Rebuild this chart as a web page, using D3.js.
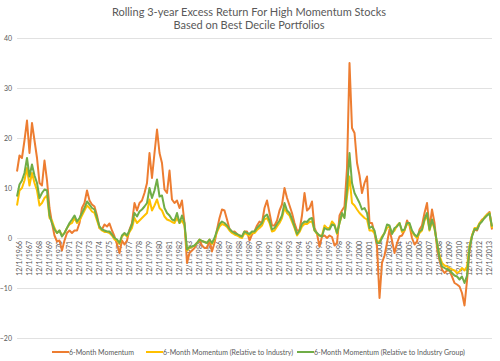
<!DOCTYPE html>
<html>
<head>
<meta charset="utf-8">
<script src="https://cdn.jsdelivr.net/npm/d3@7"></script>
<style>
  body { margin: 0; background: #fff; }
  svg { font-family: Lato, "Open Sans", sans-serif; }
</style>
</head>
<body>
<svg id="chart" width="500" height="361"></svg>
<script>
// quarterly readings, first point Sep 1966, last Mar 2014
const startDate = new Date(1966, 8, 1);

const momentum = [
  13.3, 16.5, 16, 19.5, 23.5, 17, 23, 19.5, 16, 11, 10.5, 15.5, 11.5, 6, 3, 0.5, -0.7, -0.5, -2.5, -0.5,
  1, 1.5, 1, 1.5, 1.5, 3, 6, 7, 9.5, 7.5, 6.7, 6.3, 4.5, 2, 1.7, 2.7, 2.3, 2.9, 1.5, 0.3,
  -1.3, -3, -0.5, -1.3, -0.5, 1.7, 3, 7, 5.5, 7, 7.5, 9, 11, 17, 12, 17, 21.7, 17, 15, 9.7,
  9, 13.5, 7.7, 7, 7.5, 6, 7.5, 3, -5, -3, -2.5, -2, -1, -0.5, -1.5, -2, -2, -0.5,
  -2.7, -1, 1.7, 4, 5.7, 5.5, 3.7, 1.8, 1.2, 1.3, 0.8, 0.5, 0.3, 1.3, 1.3, -0.5, 0.7, 1.3, 2.5, 3.3,
  3, 6, 7.5, 5, 2.5, 2.5, 3.5, 5.5, 6.7, 10, 8, 6.5, 5, 3, 1.5, 1.5, 4.5, 9,
  5.5, 6, 7.3, 2, 0.8, -1.7, 0.3, 0.5, 0, 0.5, 0.2, -1.5, -1, 4.5, 5.5, 6.3, 14, 35, 22, 21,
  15, 12.5, 9, 11, 12.3, 3, 3, 1, -1.7, -12, -5, -3.5, -1, 1.7, -0.5, -3, -1, 0.3,
  0.5, 1.5, 3.5, 2.5, 0, -1.3, -0.7, 1.7, 2.5, 5, 7, 2, 5.7, 3, -2, -4.5, -6.3, -7, -6.5, -6.5,
  -7.7, -9, -9.3, -9.7, -11, -13.5, -8.5, -2.5, 0.5, 1.7, 1.5, 2.8, 3.7, 4, 4.7, 5.2, 1.7
];

const relIndustry = [
  6.5, 9.5, 10, 11.5, 14, 10.5, 13, 11, 9.5, 6.5, 7, 8, 8.5, 4, 3.5, 2, 1, 1.5, 0.5, 1,
  2, 2.7, 3, 4, 3, 3.5, 4.5, 5.5, 6.5, 6, 5.3, 5, 3.5, 2, 1.5, 1.2, 1.2, 1, 0.5, -0.3,
  -0.5, -1.2, 0.3, 0.8, 0.3, 1.2, 2, 4, 3, 3.5, 4, 4.5, 5, 7.7, 5.5, 6.5, 7.7, 6, 5.5, 4.3,
  3.7, 3.5, 3.2, 3, 4, 3, 3.5, 2.5, -2.5, -2, -1.8, -1.5, -1, -0.3, -0.6, -0.8, -1, -0.3,
  -1.2, -0.3, 1.2, 2.3, 2.8, 2.6, 2.2, 1.5, 1, 0.7, 0.5, 0.2, 0, 1, 0.7, 0.5, 1, 1, 1.6, 2,
  2.5, 3.7, 4, 3, 1.3, 1.5, 2.3, 3, 4, 6, 5, 4.5, 3.3, 2, 0.5, 1.2, 2.3, 2.8,
  2.8, 3.2, 3.3, 1.5, 0.8, 0.5, 0.5, 2.5, 2, 2, 3.3, 2.7, 0.8, 3, 4.5, 4.5, 8.3, 12.3, 7, 6.5,
  5.7, 5, 4.5, 4, 3.7, 1.5, 1.5, 1, -0.7, -0.7, 0.3, 1, 2, 2.3, 1, 1.5, 2.5, 3,
  1.2, 1.5, 2.8, 2.7, 1.2, 0.5, 0, 1, 1.5, 3.5, 4.5, 1.5, 3.3, 1.8, -1, -3.5, -5, -5.5, -5.7, -6,
  -6.3, -6.5, -7, -6.7, -6, -6.5, -5.7, -1.5, 0.5, 2, 2, 3, 3.5, 4.2, 4.7, 5, 2
];

const relGroup = [
  8.3, 10.7, 11.5, 13, 16, 12.3, 14.7, 12.5, 11, 8, 9, 9.7, 9.5, 4.5, 3, 1.7, 1, 1.5, 0.3, 1,
  2, 3, 3.7, 4.5, 3.3, 4, 5, 6, 7.3, 6.7, 6, 5.7, 4, 2.3, 1.7, 1.5, 1.3, 1.3, 0.7, 0,
  -0.3, -1, 0.5, 1, 0.5, 1.5, 2.7, 5, 4.3, 5.3, 5.7, 6.3, 7, 10, 8, 9.5, 11.7, 8.3, 8.5, 6,
  5, 4.5, 3.7, 3.5, 5, 3, 4.5, 3, -2.3, -1.8, -1.7, -1.5, -1, -0.3, -0.6, -0.8, -1, -0.3,
  -1, 0, 1.5, 2.8, 3.3, 3, 2.5, 1.8, 1.3, 1, 0.8, 0.5, 0.3, 1.3, 1, 0.8, 1.3, 1.3, 2, 2.5,
  3, 4.3, 4.7, 3.5, 1.7, 2, 2.8, 3.5, 4.5, 7, 5.5, 5, 3.8, 2.3, 0.8, 1.5, 2.8, 3.3,
  3.2, 3.8, 4, 1.5, 1, 0.5, 0.3, 2, 1.7, 1.7, 2.7, 2.5, 1, 3, 5, 4, 9.7, 17, 11, 9,
  8, 7, 5.7, 6, 5, 2, 2.3, 1.5, -1, -1, 0, 1, 2.7, 2.5, 0.8, 2, 2.3, 3,
  1.5, 1.7, 3, 3, 1.5, 0.7, 0.3, 1.3, 1.7, 3.8, 5, 1.7, 3.7, 2, -1, -4, -5.7, -6, -6.3, -6.5,
  -7, -7.5, -7.7, -8.3, -7.7, -9, -7.5, -2, 0.3, 1.8, 1.7, 2.8, 3.3, 4, 4.5, 4.9, 2.3
];

const tickYears = [1966, 1967, 1968, 1969, 1970, 1971, 1972, 1973, 1974, 1975, 1976, 1977,
  1978, 1979, 1980, 1981, 1982, 1983, 1984, 1985, 1986, 1987, 1988, 1989, 1990, 1991,
  1992, 1993, 1994, 1995, 1996, 1997, 1998, 1999, 2000, 2001, 2002, 2003, 2004, 2005,
  2006, 2007, 2008, 2009, 2010, 2011, 2012, 2013];
const yTicks = [-20, -10, 0, 10, 20, 30, 40];

const seriesNames = ["6-Month Momentum", "6-Month Momentum (Relative to Industry)",
  "6-Month Momentum (Relative to Industry Group)"];
const colors = ["#ED7D31", "#FFC000", "#70AD47"];

const svg = d3.select("#chart");
const margin = { top: 38, right: 8, bottom: 23, left: 17 };
const width = 500 - margin.left - margin.right;
const height = 361 - margin.top - margin.bottom - 0;

const x = d3.scaleTime()
  .domain([startDate, new Date(2014, 2, 1)])
  .range([margin.left, margin.left + width]);
const y = d3.scaleLinear().domain([-20, 40]).range([338, 38]);

const dateAt = i => d3.timeMonth.offset(startDate, i * 3);

// title
svg.append("text").attr("x", 249).attr("y", 16).attr("text-anchor", "middle")
  .attr("font-size", 11).attr("fill", "#595959")
  .text("Rolling 3-year Excess Return For High Momentum Stocks");
svg.append("text").attr("x", 249).attr("y", 29).attr("text-anchor", "middle")
  .attr("font-size", 11).attr("fill", "#595959")
  .text("Based on Best Decile Portfolios");

// gridlines + y labels
const yAxis = svg.append("g")
  .attr("transform", `translate(${margin.left},0)`)
  .call(d3.axisLeft(y).tickValues(yTicks).tickSize(-width).tickPadding(5));
yAxis.select(".domain").remove();
yAxis.selectAll(".tick line").attr("stroke", "#d9d9d9").attr("stroke-width", 0.8);
yAxis.selectAll(".tick text").attr("fill", "#595959").attr("font-size", 7)
  .attr("font-family", "Lato, sans-serif");

// category labels at the zero line
const xAxis = svg.append("g")
  .attr("transform", `translate(0,${y(0)})`)
  .call(d3.axisBottom(x)
    .tickValues(tickYears.map(yr => new Date(yr, 11, 1)))
    .tickFormat(d => "12/1/" + d.getFullYear())
    .tickSize(0));
xAxis.select(".domain").remove();
xAxis.selectAll(".tick text")
  .attr("fill", "#595959").attr("font-size", 7).attr("font-family", "Lato, sans-serif")
  .attr("text-anchor", "end")
  .attr("transform", "rotate(-90)")
  .attr("x", -3).attr("y", 0).attr("dy", "0.32em");

// lines
const line = d3.line().x((d, i) => x(dateAt(i))).y(d => y(d));
[momentum, relIndustry, relGroup].forEach((vals, si) => {
  svg.append("path").datum(vals)
    .attr("fill", "none").attr("stroke", colors[si])
    .attr("stroke-width", 2).attr("stroke-linejoin", "round")
    .attr("d", line);
});

// legend
const legendX = [52, 146, 297];
const legend = svg.append("g");
seriesNames.forEach((name, i) => {
  legend.append("line").attr("x1", legendX[i]).attr("x2", legendX[i] + 17)
    .attr("y1", 352).attr("y2", 352).attr("stroke", colors[i]).attr("stroke-width", 2);
  legend.append("text").attr("x", legendX[i] + 17).attr("y", 354.5)
    .attr("font-size", 7).attr("fill", "#595959").text(name);
});
</script>
</body>
</html>
